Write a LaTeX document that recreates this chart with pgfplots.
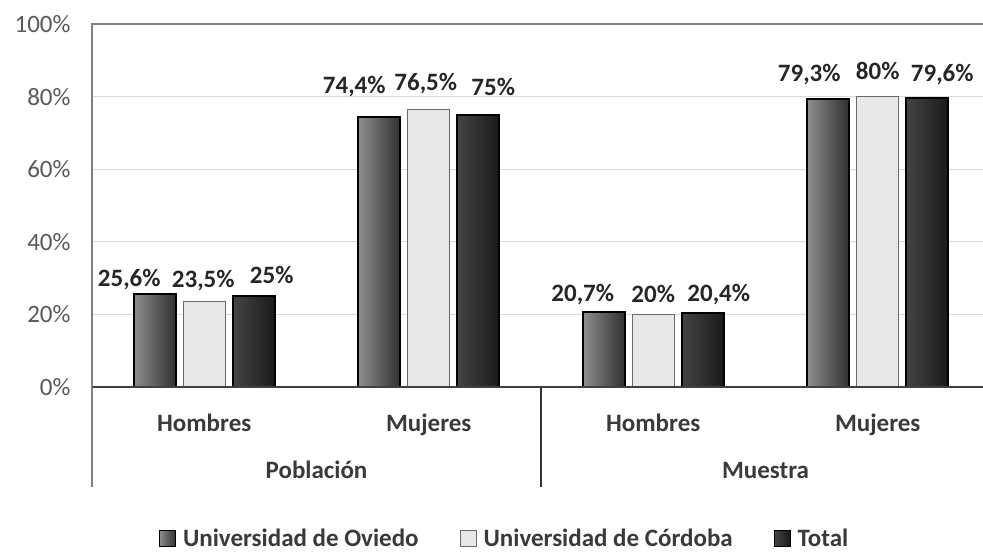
\documentclass[border=0pt]{standalone}
\usepackage{pgfplots}
\pgfplotsset{compat=1.18}
\usepackage{fontspec}
\setmainfont{Carlito}
\definecolor{tickgray}{HTML}{595959}
\definecolor{labgray}{HTML}{3A3A3A}
\definecolor{gridgray}{HTML}{D9D9D9}
\definecolor{boxgray}{HTML}{808080}
\definecolor{ovL}{HTML}{8E8E8E}
\definecolor{ovR}{HTML}{303030}
\definecolor{toL}{HTML}{444444}
\definecolor{toR}{HTML}{1A1A1A}
\definecolor{coF}{HTML}{E8E8E8}
\definecolor{coD}{HTML}{6A6A6A}
\pgfplotsset{
  ov/.style={draw=black, line width=1.8pt, left color=ovL, right color=ovR, bar shift=-49.5pt},
  co/.style={draw=coD, line width=1pt, fill=coF, bar shift=0pt},
  to/.style={draw=black, line width=1.8pt, left color=toL, right color=toR, bar shift=49.5pt},
  lab/.style 2 args={every node near coord/.append style={xshift=#1pt, yshift=#2pt}},
}
\begin{document}
\begin{tikzpicture}
\path[use as bounding box] (0,0) rectangle (983pt,553pt);
\begin{axis}[
  at={(92pt,166pt)}, anchor=south west,
  scale only axis, width=898pt, height=363pt,
  xmin=-0.5, xmax=3.5, ymin=0, ymax=100,
  clip=false,
  ybar, bar width=42pt,
  xtick={0,1,2,3}, xticklabels={Hombres,Mujeres,Hombres,Mujeres},
  ytick={0,20,40,60,80,100},
  yticklabels={0\%,20\%,40\%,60\%,80\%,100\%},
  major tick length=0pt,
  ymajorgrids, grid style={gridgray, line width=1.2pt},
  axis line style={boxgray, line width=1.2pt},
  yticklabel style={font=\fontsize{25}{28}\selectfont, text=tickgray, xshift=-18pt},
  xticklabel style={font=\fontsize{25}{28}\selectfont\bfseries, text=labgray, yshift=-23pt},
  point meta=explicit symbolic,
  nodes near coords,
  every node near coord/.append style={font=\fontsize{25}{28}\selectfont\bfseries, text=black!85,
     anchor=south, inner sep=0pt, text height=16pt, text depth=0pt},
  legend columns=3,
  legend style={draw=none, at={(0.459,-0.418)}, anchor=center, inner sep=0pt,
    nodes={inner sep=1pt},
    font=\fontsize{25}{28}\selectfont\bfseries, text=labgray,
    /tikz/every odd column/.append style={column sep=6pt},
    /tikz/every even column/.append style={column sep=40pt}},
  legend image code/.code={\draw[#1, line width=1pt] (0pt,-8pt) rectangle (16pt,8pt);},
]
% Poblacion - Hombres (legend entries)
\addplot[ov, lab={-25.5}{7}] coordinates {(0,25.6) [25,6\%]};
\addplot[co, lab={-1}{14}] coordinates {(0,23.5) [23,5\%]};
\addplot[to, lab={18}{12}] coordinates {(0,25) [25\%]};
% Poblacion - Mujeres
\addplot[ov, lab={-25}{23}, forget plot] coordinates {(1,74.4) [74,4\%]};
\addplot[co, lab={-3}{18}, forget plot] coordinates {(1,76.5) [76,5\%]};
\addplot[to, lab={15}{18}, forget plot] coordinates {(1,75) [75\%]};
% Muestra - Hombres
\addplot[ov, lab={-21}{9}, forget plot] coordinates {(2,20.7) [20,7\%]};
\addplot[co, lab={0}{11}, forget plot] coordinates {(2,20) [20\%]};
\addplot[to, lab={16}{11}, forget plot] coordinates {(2,20.4) [20,4\%]};
% Muestra - Mujeres
\addplot[ov, lab={-19}{17}, forget plot] coordinates {(3,79.3) [79,3\%]};
\addplot[co, lab={0}{17}, forget plot] coordinates {(3,80) [80\%]};
\addplot[to, lab={15}{16}, forget plot] coordinates {(3,79.6) [79,6\%]};
\legend{Universidad de Oviedo, Universidad de Córdoba, Total}
\draw[black!75, line width=1.3pt] (axis cs:-0.5,0) -- (axis cs:3.5,0);
\draw[boxgray, line width=1.2pt] (axis cs:-0.5,0) -- ([yshift=-100pt]axis cs:-0.5,0);
\draw[black!80, line width=1.2pt] (axis cs:1.5,0) -- ([yshift=-100pt]axis cs:1.5,0);
\node[font=\fontsize{25}{28}\selectfont\bfseries, text=labgray] at ([yshift=-83pt]axis cs:0.5,0) {Población};
\node[font=\fontsize{25}{28}\selectfont\bfseries, text=labgray] at ([yshift=-83pt]axis cs:2.5,0) {Muestra};
\end{axis}
\end{tikzpicture}
\end{document}
